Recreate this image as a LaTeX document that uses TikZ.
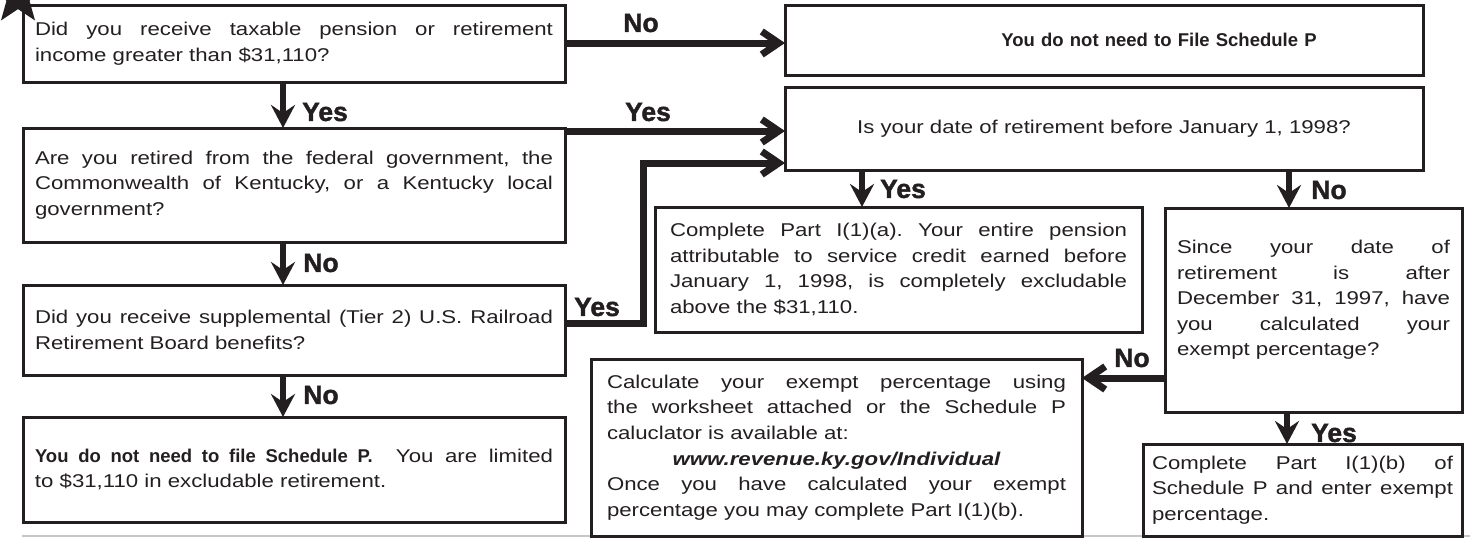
\documentclass[tikz,border=0pt]{standalone}
\usepackage{fontspec}
\setmainfont{Liberation Sans}
\newfontfamily\bodyfont{Liberation Sans}[FakeStretch=1.2]
\newfontfamily\plainsans{Liberation Sans}
\newfontfamily\labfont{Liberation Sans}[UprightFont={* Bold}, FakeBold=1.5]
\usetikzlibrary{arrows.meta,shapes.geometric}
\definecolor{ink}{HTML}{231F20}
\newcommand\B[1]{{\plainsans\bfseries #1}}
\newcommand\txt{\bodyfont\fontsize{18.5}{25.6}\selectfont\frenchspacing\tolerance=10000\hyphenpenalty=10000\parindent=0pt }
\tikzset{
  box/.style={draw=ink, line width=3pt, outer sep=0pt, inner ysep=2pt, anchor=north west, align=justify, text=ink, font=\txt},
  cbox/.style={box, align=center},
  harrow/.style={draw=ink, line width=7pt, line join=miter, -{Straight Barb[length=17pt,width=23pt]}},
  varrow/.style={draw=ink, line width=6pt, -{Stealth[length=23pt,width=24pt,inset=8pt]}},
  lab/.style={font=\labfont\fontsize{26.5}{26.5}\selectfont, text=ink, inner sep=0pt},
}
\begin{document}
\begin{tikzpicture}[x=1pt,y=-1pt]
\useasboundingbox (0,0) rectangle (1470,538);
\draw[black!22, line width=1.5pt] (22,536) -- (1470,536);

% left column
\node[box, minimum width=542pt, minimum height=77pt, text width=518pt, inner xsep=12pt] (b1) at (23,5)
  {Did you receive taxable pension or retirement\linebreak income greater than \$31,110?};
\node[box, minimum width=542pt, minimum height=114pt, text width=518pt, inner xsep=12pt] (b2) at (23,128)
  {Are you retired from the federal government, the\linebreak Commonwealth of Kentucky, or a Kentucky local\linebreak government?};
\node[box, minimum width=542pt, minimum height=90pt, text width=518pt, inner xsep=12pt] (b3) at (23,285)
  {Did you receive supplemental (Tier 2) U.S. Railroad\linebreak Retirement Board benefits?};
\node[box, minimum width=542pt, minimum height=105pt, text width=518pt, inner xsep=12pt] (b4) at (23,417)
  {\B{You do not need to file Schedule P.}\ \ You are limited\linebreak to \$31,110 in excludable retirement.};

% right part
\node[cbox, minimum width=638pt, minimum height=70pt, text width=600pt] (f) at (785,5)
  {\hspace*{110pt}\B{You do not need to File Schedule P}};
\node[cbox, minimum width=638pt, minimum height=83pt, text width=600pt] (d) at (785,87)
  {Is your date of retirement before January 1, 1998?};
\node[box, minimum width=487pt, minimum height=125pt, text width=457pt, inner xsep=15pt] (a) at (655,207)
  {Complete Part I(1)(a). Your entire pension\linebreak attributable to service credit earned before\linebreak January 1, 1998, is completely excludable\linebreak above the \$31,110.};
\node[box, minimum width=297pt, minimum height=204pt, text width=273pt, inner xsep=12pt] (s) at (1165,208)
  {Since your date of\linebreak retirement is after\linebreak December 31, 1997, have\linebreak you calculated your\linebreak exempt percentage?\par\vspace{20pt}};
\node[box, minimum width=491pt, minimum height=177pt, text width=459pt, inner xsep=16pt] (c) at (591,359)
  {Calculate your exempt percentage using\linebreak the worksheet attached or the Schedule P\linebreak caluclator is available at:\par
   {\centering\bfseries\itshape www.revenue.ky.gov/Individual\par}
   Once you have calculated your exempt\linebreak percentage you may complete Part I(1)(b).};
\node[box, minimum width=319pt, minimum height=92pt, text width=301pt, inner xsep=9pt] (bb) at (1143,444)
  {Complete Part I(1)(b) of\linebreak Schedule P and enter exempt\linebreak percentage.};

% star
\node[star, star points=5, star point ratio=2.4, fill=ink, minimum size=58pt, inner sep=0pt] (star) at (18,-3) {};

% helper coordinates
\coordinate (xl) at (283,0);
\coordinate (xm) at (862,0);
\coordinate (xr) at (1289,0);
\coordinate (xr2) at (1287,0);
\coordinate (yy) at (0,131);
\coordinate (ll) at (0,378);
\coordinate (c3) at (643,323);
\coordinate (c4) at (643,163);

% connectors
\draw[harrow] (b1.east |- 0,43) -- (f.west |- 0,43);
\draw[harrow] (b2.east |- yy) -- (d.west |- yy);
\draw[harrow] (b3.east |- c3) -- (c3) -- (c4) -- (d.west |- c4);
\draw[harrow] (s.west |- ll) -- (c.east |- ll);
\draw[varrow] (b1.south -| xl) -- (b2.north -| xl);
\draw[varrow] (b2.south -| xl) -- (b3.north -| xl);
\draw[varrow] (b3.south -| xl) -- (b4.north -| xl);
\draw[varrow] (d.south -| xm) -- (a.north -| xm);
\draw[varrow] (d.south -| xr) -- (s.north -| xr);
\draw[varrow] (s.south -| xr2) -- (bb.north -| xr2);

% labels
\node[lab] (lNo1) at (641,23) {No};
\node[lab] (lYes2) at (648,112) {Yes};
\node[lab] (lYes1) at (325,112) {Yes};
\node[lab] (lNo2) at (321,263) {No};
\node[lab] (lYes3) at (597,307) {Yes};
\node[lab] (lNo5) at (321,395) {No};
\node[lab] (lYes4) at (903,189) {Yes};
\node[lab] (lNo3) at (1329,190) {No};
\node[lab] (lNo4) at (1132,358) {No};
\node[lab] (lYes5) at (1334,433) {Yes};
\end{tikzpicture}
\end{document}
